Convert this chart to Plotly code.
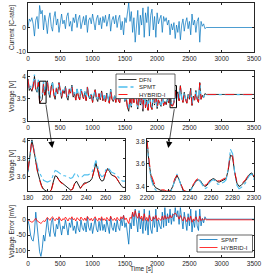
import plotly.graph_objects as go

# ---------------- data ----------------
time_s = [0, 20, 40, 60, 80, 100, 120, 140, 160, 180, 200, 220, 240, 260, 280, 300, 320, 340, 360, 380,
          400, 420, 440, 460, 480, 500, 520, 540, 560, 580, 600, 620, 640, 660, 680, 700, 720, 740, 760, 780,
          800, 820, 840, 860, 880, 900, 920, 940, 960, 980, 1000, 1020, 1040, 1060, 1080, 1100, 1120, 1140, 1160, 1180,
          1200, 1220, 1240, 1260, 1280, 1300, 1320, 1340, 1360, 1380, 1400, 1420, 1440, 1460, 1480, 1500, 1520, 1540, 1560, 1580,
          1600, 1620, 1640, 1660, 1680, 1700, 1720, 1740, 1760, 1780, 1800, 1820, 1840, 1860, 1880, 1900, 1920, 1940, 1960, 1980,
          2000, 2020, 2040, 2060, 2080, 2100, 2120, 2140, 2160, 2180, 2200, 2220, 2240, 2260, 2280, 2300, 2320, 2340, 2360, 2380,
          2400, 2420, 2440, 2460, 2480, 2500, 2520, 2540, 2560, 2580, 2600, 2620, 2640, 2660, 2680, 2700, 2720, 2740, 2760, 3500]

current_c = [0, 3.5, 2.5, 4.0, 1.5, -3.5, 3.0, 4.5, -0.5, 9.0, 5.5, 7.0, -1.0, 5.0, 2.0, -2.5, 3.5, 6.0, 0.5, -1.5,
             4.0, 6.5, 1.0, 3.5, -2.0, 2.5, 5.5, 1.5, 3.0, -0.5, 4.5, 6.0, 0.5, 2.5, -1.5, 4.0, 2.0, 5.5, 0.0, 3.5,
             5.0, -0.5, 3.0, 4.5, 1.0, 5.0, -2.0, 3.0, 4.0, 1.5, 5.5, 2.0, -1.0, 3.5, 5.0, 1.0, 4.0, -0.5, 4.5, 2.0,
             5.0, 0.5, 3.5, 5.5, -1.5, 3.0, 4.5, 1.5, 5.0, 0.0, 3.5, 5.0, -1.0, 2.5, -3.0, 4.0, 2.0, 7.0, 10.0, 2.5,
             6.5, -2.0, 4.0, -6.0, 3.0, 7.0, -3.0, 5.0, 1.0, 8.0, -4.0, 6.0, 2.0, 8.5, -3.5, 5.0, 7.5, -1.0, 4.5, -4.0,
             6.0, 1.5, 3.5, 5.0, -2.0, 4.5, 2.5, 4.0, 1.0, 3.0, -3.0, 1.5, -1.0, 2.0, -4.5, 1.0, -2.0, 2.5, -5.0, 1.0,
             3.5, -1.5, 2.0, 4.0, -0.5, 2.5, -3.0, 5.5, 1.0, 3.0, -2.0, 2.5, 4.0, -6.0, 2.5, 0.5, 1.5, -0.5, 0, 0]

v_dfn = [3.95, 3.69, 3.74, 3.67, 3.78, 4.01, 3.72, 3.65, 3.87, 3.40, 3.45, 3.49, 3.84, 3.58, 3.71, 3.91, 3.64, 3.53, 3.78, 3.87,
         3.60, 3.49, 3.74, 3.62, 3.87, 3.65, 3.51, 3.69, 3.62, 3.78, 3.54, 3.47, 3.72, 3.63, 3.81, 3.54, 3.63, 3.47, 3.72, 3.56,
         3.48, 3.72, 3.57, 3.50, 3.66, 3.46, 3.77, 3.55, 3.50, 3.61, 3.42, 3.58, 3.71, 3.51, 3.44, 3.62, 3.48, 3.68, 3.46, 3.57,
         3.43, 3.63, 3.49, 3.40, 3.72, 3.50, 3.44, 3.57, 3.42, 3.64, 3.47, 3.41, 3.68, 3.52, 3.77, 3.44, 3.53, 3.31, 3.22, 3.51,
         3.31, 3.69, 3.42, 3.87, 3.47, 3.27, 3.72, 3.36, 3.54, 3.22, 3.75, 3.30, 3.48, 3.24, 3.73, 3.34, 3.26, 3.61, 3.36, 3.74,
         3.28, 3.48, 3.39, 3.33, 3.64, 3.35, 3.44, 3.37, 3.50, 3.41, 3.81, 3.35, 3.35, 3.43, 3.70, 3.50, 3.66, 3.46, 3.80, 3.53,
         3.42, 3.65, 3.49, 3.40, 3.60, 3.49, 3.74, 3.35, 3.56, 3.47, 3.69, 3.49, 3.42, 3.87, 3.49, 3.58, 3.53, 3.62, 3.60, 3.60]

err_spmt_mv = [-2, -20, -50, -65, -70, -40, 25, -30, -60, -105, -120, -95, -50, -70, -40, 5, -35, -55, -10, 5,
               -40, -55, -15, -30, 5, -25, -50, -20, -30, 0, -35, -50, -10, -25, 5, -35, -20, -45, -5, -30,
               -40, 0, -25, -35, -10, -40, 10, -25, -35, -10, -45, -15, 5, -30, -40, -5, -35, 5, -35, -15,
               -40, 0, -25, -45, 10, -25, -35, -10, -40, 0, -25, -35, 5, -20, 15, -25, -10, -45, -80, -10,
               -30, 25, -20, 35, -15, -40, 30, -30, 5, -45, 35, -35, 0, -50, 30, -30, -45, 10, -25, 35,
               -40, 0, -20, -30, 25, -25, 40, -20, 20, -10, 35, -15, 20, -5, 40, 10, 30, -15, 40, -5,
               -30, 25, -15, -35, 20, -20, 35, -40, 0, -25, 30, -20, -35, 35, -20, 5, -10, 10, 2, 2]

err_hybrid_mv = [0, -3, -5, -8, -6, -2, 5, -3, -6, -10, -12, -8, -3, -6, 0, 8, 3, -2, 6, 10,
                 2, -3, 5, 0, 10, 3, -4, 4, 0, 9, 1, -4, 6, 2, 10, 0, 4, -4, 7, 0,
                 -3, 9, 2, -2, 6, -3, 11, 2, -2, 5, -4, 4, 10, 0, -4, 6, -2, 10, -2, 4,
                 -3, 8, 1, -4, 12, 1, -2, 5, -3, 8, 1, -3, 10, 3, 14, 0, 6, -5, -12, 8,
                 4, 25, 10, 30, 12, 5, 22, 2, 12, -3, 20, -2, 8, -5, 15, 0, -4, 10, 2, 14,
                 -3, 6, 2, -2, 12, 0, 14, 2, 10, 4, 15, 6, 14, 18, 22, 16, 12, 2, 14, 4,
                 -4, 10, 0, -6, 8, -2, 12, -8, 3, -3, 10, -2, -6, 12, -3, 3, -1, 4, 0, 0]

zoom1_t = list(range(180, 282, 2))
zoom1_dfn = [3.66, 3.85, 4.01, 3.90, 3.77, 3.65, 3.57, 3.50, 3.46, 3.44, 3.43, 3.43, 3.45, 3.54, 3.61, 3.60, 3.56,
             3.54, 3.52, 3.51, 3.49, 3.47, 3.45, 3.46, 3.52, 3.55, 3.50, 3.47, 3.50, 3.53, 3.53, 3.54, 3.55, 3.58,
             3.66, 3.75, 3.67, 3.58, 3.55, 3.56, 3.64, 3.69, 3.66, 3.62, 3.61, 3.60, 3.57, 3.53, 3.50, 3.48, 3.48]
zoom1_spmt = [3.65, 3.84, 4.00, 3.91, 3.80, 3.70, 3.64, 3.59, 3.56, 3.55, 3.54, 3.55, 3.56, 3.62, 3.67, 3.66, 3.64,
              3.62, 3.61, 3.61, 3.60, 3.59, 3.58, 3.59, 3.63, 3.64, 3.60, 3.59, 3.60, 3.62, 3.62, 3.62, 3.63, 3.65,
              3.71, 3.78, 3.71, 3.63, 3.60, 3.61, 3.67, 3.70, 3.68, 3.65, 3.64, 3.63, 3.61, 3.58, 3.56, 3.55, 3.55]
zoom1_hybrid = [3.67, 3.86, 4.01, 3.89, 3.76, 3.64, 3.56, 3.49, 3.45, 3.43, 3.43, 3.43, 3.45, 3.53, 3.60, 3.59, 3.56,
                3.53, 3.52, 3.50, 3.48, 3.46, 3.45, 3.46, 3.52, 3.54, 3.50, 3.47, 3.50, 3.52, 3.53, 3.53, 3.55, 3.58,
                3.66, 3.74, 3.67, 3.58, 3.55, 3.56, 3.64, 3.68, 3.66, 3.62, 3.61, 3.60, 3.57, 3.53, 3.50, 3.48, 3.47]

zoom2_t = list(range(2200, 2302, 2))
zoom2_dfn = [3.80, 3.60, 3.48, 3.42, 3.39, 3.38, 3.37, 3.36, 3.36, 3.35, 3.35, 3.36, 3.40, 3.46, 3.50, 3.46, 3.40,
             3.36, 3.35, 3.35, 3.36, 3.39, 3.43, 3.45, 3.46, 3.45, 3.42, 3.40, 3.41, 3.44, 3.46, 3.47, 3.46, 3.44,
             3.44, 3.45, 3.46, 3.47, 3.55, 3.68, 3.66, 3.52, 3.43, 3.40, 3.41, 3.43, 3.45, 3.48, 3.51, 3.52, 3.48]
zoom2_spmt = [3.80, 3.58, 3.46, 3.40, 3.37, 3.36, 3.35, 3.34, 3.34, 3.34, 3.34, 3.35, 3.39, 3.46, 3.51, 3.46, 3.39,
              3.35, 3.34, 3.34, 3.35, 3.38, 3.42, 3.45, 3.46, 3.44, 3.41, 3.38, 3.39, 3.43, 3.45, 3.46, 3.45, 3.42,
              3.42, 3.43, 3.44, 3.46, 3.56, 3.73, 3.69, 3.52, 3.41, 3.38, 3.39, 3.41, 3.43, 3.47, 3.50, 3.51, 3.46]
zoom2_hybrid = [3.81, 3.62, 3.50, 3.44, 3.40, 3.39, 3.38, 3.37, 3.37, 3.36, 3.36, 3.37, 3.41, 3.47, 3.50, 3.46, 3.41,
                3.37, 3.36, 3.36, 3.37, 3.40, 3.44, 3.46, 3.47, 3.46, 3.43, 3.41, 3.42, 3.45, 3.47, 3.48, 3.47, 3.45,
                3.45, 3.46, 3.47, 3.48, 3.56, 3.69, 3.67, 3.53, 3.44, 3.41, 3.42, 3.44, 3.46, 3.49, 3.52, 3.53, 3.49]

# model voltages = DFN voltage minus error (error = V_DFN - V_model)
v_spmt = [v - e / 1000.0 for v, e in zip(v_dfn, err_spmt_mv)]
v_hybrid = [v - e / 1000.0 for v, e in zip(v_dfn, err_hybrid_mv)]

legend1_labels = ["DFN", "SPMT", "HYBRID-I"]
legend2_labels = ["SPMT", "HYBRID-I"]

# ---------------- style ----------------
W, H = 272, 273
FONT = "Liberation Sans"
FS = 6.5
LFS = 6
AX = "#262626"
BLUE = "#0072BD"
LBLUE = "#4DBEEE"
RED = "#FF0000"


def px_x(p):
    return p / W


def px_y(p):
    return 1 - p / H


fig = go.Figure()

# panel 1 current
fig.add_trace(go.Scatter(x=time_s, y=current_c, mode="lines", line=dict(color=BLUE, width=0.7),
                         showlegend=False, xaxis="x", yaxis="y"))

# panel 2 voltage
dfn_line = dict(color="black", width=0.8)
spmt_line = dict(color=LBLUE, width=1.3, dash="dashdot")
hyb_line = dict(color=RED, width=0.9, dash="dash")
fig.add_trace(go.Scatter(x=time_s, y=v_dfn, mode="lines", line=dfn_line, showlegend=False, xaxis="x2", yaxis="y2"))
fig.add_trace(go.Scatter(x=time_s, y=v_spmt, mode="lines", line=spmt_line, showlegend=False, xaxis="x2", yaxis="y2"))
fig.add_trace(go.Scatter(x=time_s, y=v_hybrid, mode="lines", line=hyb_line, showlegend=False, xaxis="x2", yaxis="y2"))

# panel 3 zooms
for xa, ya, t, d, s, h in [("x3", "y3", zoom1_t, zoom1_dfn, zoom1_spmt, zoom1_hybrid),
                           ("x4", "y4", zoom2_t, zoom2_dfn, zoom2_spmt, zoom2_hybrid)]:
    fig.add_trace(go.Scatter(x=t, y=d, mode="lines", line=dict(color="black", width=0.9),
                             showlegend=False, xaxis=xa, yaxis=ya))
    fig.add_trace(go.Scatter(x=t, y=s, mode="lines", line=dict(color=LBLUE, width=1.1, dash="dashdot"),
                             showlegend=False, xaxis=xa, yaxis=ya))
    fig.add_trace(go.Scatter(x=t, y=h, mode="lines", line=dict(color=RED, width=0.9, dash="dash"),
                             showlegend=False, xaxis=xa, yaxis=ya))

# panel 4 error
err_s_line = dict(color=BLUE, width=0.8)
err_h_line = dict(color=RED, width=0.8)
fig.add_trace(go.Scatter(x=time_s, y=err_spmt_mv, mode="lines", line=err_s_line, showlegend=False,
                         xaxis="x5", yaxis="y5"))
fig.add_trace(go.Scatter(x=time_s, y=err_hybrid_mv, mode="lines", line=err_h_line, showlegend=False,
                         xaxis="x5", yaxis="y5"))

tickfont = dict(family=FONT, size=FS, color=AX)


def xax(domain, rng, dtick, anchor):
    return dict(domain=domain, range=rng, dtick=dtick, tick0=rng[0], anchor=anchor, showgrid=False, zeroline=False,
                showline=True, mirror="ticks", linecolor=AX, linewidth=0.7, ticks="inside", ticklen=2,
                tickcolor=AX, tickwidth=0.6, tickfont=tickfont, automargin=False, showticklabels=True)


def yax(domain, rng, tickvals, ticktext, anchor):
    return dict(domain=domain, range=rng, tickvals=tickvals, ticktext=ticktext, anchor=anchor, showgrid=False,
                zeroline=False, showline=True, mirror="ticks", linecolor=AX, linewidth=0.7, ticks="inside",
                ticklen=2, tickcolor=AX, tickwidth=0.6, tickfont=tickfont, automargin=False)


xd_full = [px_x(28), px_x(254)]
xd_a = [px_x(28), px_x(125)]
xd_b = [px_x(147), px_x(254)]

p1 = [px_y(52), px_y(3)]
p2 = [px_y(121), px_y(71)]
p3 = [px_y(191), px_y(139)]
p4 = [px_y(257), px_y(207)]

fig.update_layout(
    width=W, height=H, margin=dict(l=0, r=0, t=0, b=0),
    paper_bgcolor="white", plot_bgcolor="white", showlegend=False,
    font=dict(family=FONT, size=FS, color=AX),
    xaxis=xax(xd_full, [0, 3500], 500, "y"),
    yaxis=yax(p1, [-10, 10], [-10, 0, 10], ["-10", "0", "10"], "x"),
    xaxis2=xax(xd_full, [0, 3500], 500, "y2"),
    yaxis2=yax(p2, [3, 4.13], [3, 3.5, 4], ["3", "3.5", "4"], "x2"),
    xaxis3=xax(xd_a, [180, 280], 20, "y3"),
    yaxis3=yax(p3, [3.44, 4.02], [3.6, 3.8, 4.0], ["3.6", "3.8", "4"], "x3"),
    xaxis4=xax(xd_b, [2200, 2300], 20, "y4"),
    yaxis4=yax(p3, [3.36, 3.82], [3.4, 3.6, 3.8], ["3.4", "3.6", "3.8"], "x4"),
    xaxis5=xax(xd_full, [0, 3500], 500, "y5"),
    yaxis5=yax(p4, [-122, 42], [-100, -50, 0], ["-100", "-50", "0"], "x5"),
)

# boxes on panel 2
for x0, x1, y0, y1 in [(180, 280, 3.40, 3.90), (2200, 2300, 3.30, 3.80)]:
    fig.add_shape(type="rect", xref="x2", yref="y2", x0=x0, x1=x1, y0=y0, y1=y1,
                  line=dict(color="black", width=1))


# manual legends (pixel layout)
def draw_legend(box, entries):
    bx0, by0, bx1, by1 = box
    fig.add_shape(type="rect", xref="paper", yref="paper", x0=px_x(bx0), x1=px_x(bx1), y0=px_y(by1), y1=px_y(by0),
                  line=dict(color=AX, width=0.7), fillcolor="white", layer="above")
    for label, yy, ln, lx0, lx1, tx in entries:
        fig.add_shape(type="line", xref="paper", yref="paper", x0=px_x(lx0), x1=px_x(lx1), y0=px_y(yy), y1=px_y(yy),
                      line=ln, layer="above")
        fig.add_annotation(x=px_x(tx), y=px_y(yy), xref="paper", yref="paper", text=label, showarrow=False,
                           xanchor="left", yanchor="middle", xshift=0, borderpad=0,
                           font=dict(family=FONT, size=LFS, color=AX))


draw_legend((116, 74, 175, 98.5), [
    (legend1_labels[0], 79.5, dfn_line, 118.5, 136.5, 138),
    (legend1_labels[1], 87, dict(color=LBLUE, width=1.5, dash="dashdot"), 118.5, 136.5, 138),
    (legend1_labels[2], 94.5, hyb_line, 118.5, 136.5, 138),
])
draw_legend((197, 235, 252.5, 252), [
    (legend2_labels[0], 239.5, err_s_line, 199.5, 217.5, 219.5),
    (legend2_labels[1], 247.5, err_h_line, 199.5, 217.5, 219.5),
])

# arrows
fig.add_annotation(x=px_x(52.3), y=px_y(148), xref="paper", yref="paper", ax=-6.6, ay=-45,
                   axref="pixel", ayref="pixel", text="", showarrow=True, arrowhead=2, arrowsize=1.8,
                   arrowwidth=0.7, arrowcolor="black", standoff=0, startstandoff=0)
fig.add_annotation(x=px_x(168.3), y=px_y(148), xref="paper", yref="paper", ax=6.2, ay=-40.3,
                   axref="pixel", ayref="pixel", text="", showarrow=True, arrowhead=2, arrowsize=1.8,
                   arrowwidth=0.7, arrowcolor="black", standoff=0, startstandoff=0)

# axis titles
titles = [("Current [C-rate]", 12, 28, -90), ("Voltage [V]", 12, 96, -90), ("Voltage [V]", 12, 165, -90),
          ("Voltage Error [mV]", 12, 232, -90), ("Time [s]", 141, 268.5, 0)]
for txt, xp, yp, ang in titles:
    fig.add_annotation(x=px_x(xp), y=px_y(yp), xref="paper", yref="paper", text=txt, showarrow=False,
                       textangle=ang, font=dict(family=FONT, size=FS, color=AX), xanchor="center", yanchor="middle")

fig.write_html("out.html", config={"displayModeBar": False},
               post_script="document.body.style.margin='0';document.body.style.overflow='hidden';")
